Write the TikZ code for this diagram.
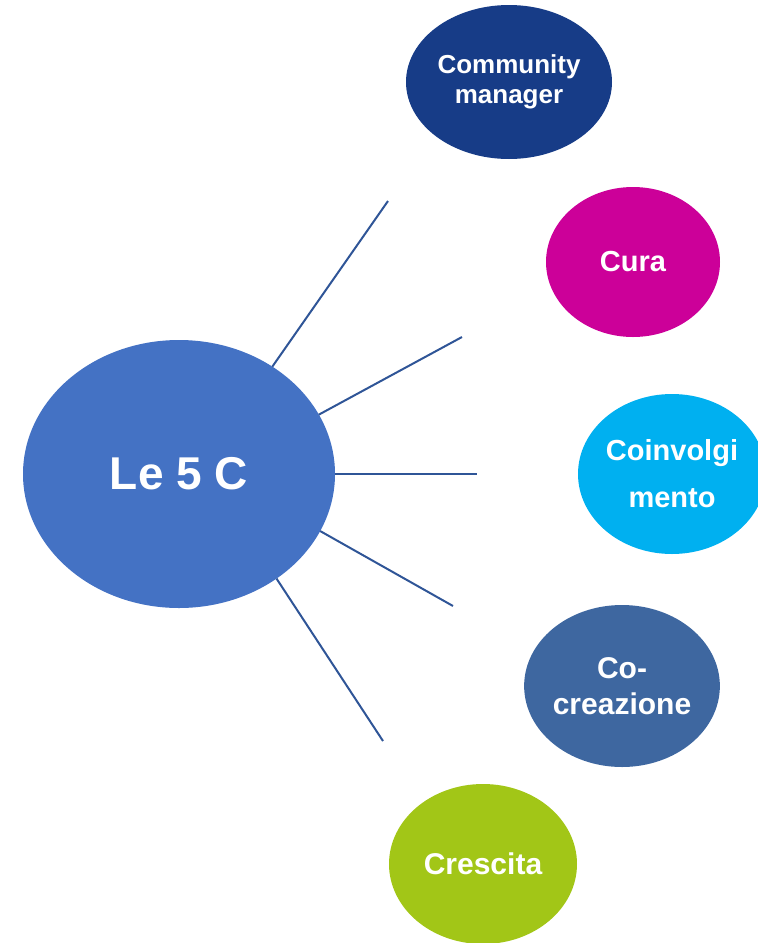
\documentclass[tikz,border=0pt]{standalone}
\usepackage{fontspec}
\setmainfont{Liberation Sans}
\usetikzlibrary{shapes.geometric,positioning}
\definecolor{mainblue}{HTML}{4472C4}
\definecolor{spokeblue}{HTML}{2F5597}
\definecolor{navyC}{HTML}{173C87}
\definecolor{magentaC}{HTML}{CC0099}
\definecolor{cyanC}{HTML}{00B0F0}
\definecolor{steelC}{HTML}{3E67A0}
\definecolor{limeC}{HTML}{A2C617}

\begin{document}
\begin{tikzpicture}[x=1pt,y=-1pt,
  bubble/.style={ellipse,inner sep=0pt,outer sep=0pt,text=white,align=center},
  spoke/.style={draw=spokeblue,line width=2pt}]
\useasboundingbox (0,0) rectangle (758,943);

\node (c5) at (179,474) [bubble,fill=mainblue,minimum width=312pt,minimum height=268pt,font=\fontsize{46}{52}\selectfont\bfseries] {Le 5 C};

\node (cm) at (509,82) [bubble,fill=navyC,minimum width=206pt,minimum height=154pt,font=\fontsize{26}{30}\selectfont\bfseries] {Community\\manager};
\node (cu) at (633,262) [bubble,fill=magentaC,minimum width=174pt,minimum height=150pt,font=\fontsize{29}{34}\selectfont\bfseries] {Cura};
\node (co) at (672,474) [bubble,fill=cyanC,minimum width=188pt,minimum height=160pt,font=\fontsize{29}{47}\selectfont\bfseries] {Coinvolgi\\mento};
\node (cc) at (622,686) [bubble,fill=steelC,minimum width=184pt,minimum height=162pt,font=\fontsize{30}{36}\selectfont\bfseries] {Co-\\creazione};
\node (cr) at (483,864) [bubble,fill=limeC,minimum width=188pt,minimum height=160pt,font=\fontsize{30}{36}\selectfont\bfseries] {Crescita};

\coordinate (e1) at (388,201);
\coordinate (e2) at (462,337);
\coordinate (e3) at (477,474);
\coordinate (e4) at (453,606);
\coordinate (e5) at (383,741);

\draw[spoke] (c5.49) -- (e1);
\draw[spoke] (c5.23) -- (e2);
\draw[spoke] (c5.0) -- (e3);
\draw[spoke] (c5.-22) -- (e4);
\draw[spoke] (c5.-47) -- (e5);
\end{tikzpicture}
\end{document}
